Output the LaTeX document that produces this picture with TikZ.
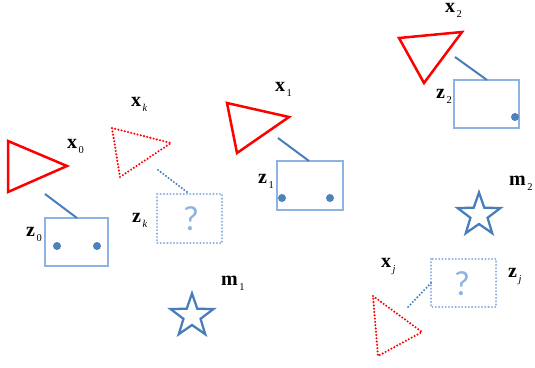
\documentclass[tikz,border=0pt]{standalone}
\usepackage{fontspec}
\setmainfont{Liberation Serif}
\newfontfamily\qfont{Carlito}
\usetikzlibrary{shapes.geometric}

\definecolor{linkblue}{RGB}{74,126,187}
\definecolor{boxblue}{RGB}{141,179,226}
\definecolor{dotblue}{RGB}{79,129,189}

\tikzset{
  pose/.style={draw=red, line width=2.5pt, line join=miter},
  posehid/.style={draw=red, line width=2.3pt, dash pattern=on 0pt off 3.3pt, line cap=round},
  link/.style={draw=linkblue, line width=2pt},
  linkhid/.style={draw=linkblue, line width=2.3pt, dash pattern=on 0pt off 3.3pt, line cap=round},
  obsbox/.style={draw=boxblue, line width=2.4pt},
  obshid/.style={draw=boxblue, line width=2.3pt, dash pattern=on 0pt off 3.3pt, line cap=round},
  feat/.style={circle, fill=dotblue, inner sep=0pt, minimum size=8pt},
  landmark/.style={star, star points=5, star point ratio=2.5, draw=linkblue,
    line width=2.3pt, minimum size=45pt, inner sep=0pt, fill=white},
  qmark/.style={text=boxblue, font=\qfont\fontsize{35}{35}\selectfont, inner sep=0pt},
  lbl/.style={anchor=base west, inner sep=0pt, font=\fontsize{20}{20}\selectfont\bfseries},
}
% bold symbol with a lowered small subscript
\newcommand{\symlab}[2]{#1\hspace{1.5pt}\raisebox{-5pt}{\fontsize{10.5}{10.5}\selectfont\mdseries #2}}

\begin{document}
\begin{tikzpicture}[x=1pt,y=-1pt]
\useasboundingbox (0,0) rectangle (535,367);

% ---- pose x0 and observation z0
\coordinate (t0a) at (8,141); \coordinate (t0b) at (67,166); \coordinate (t0c) at (8,192);
\draw[pose] (t0a) -- (t0b) -- (t0c) -- cycle;
\node[lbl] (x0) at (67,148) {\symlab{x}{0}};
\draw[obsbox] (45,218) rectangle (108,266);
\coordinate (z0top) at (77,218); \coordinate (t0s) at (45,194);
\draw[link] (t0s) -- (z0top);
\node[feat] (f01) at (57,246) {};
\node[feat] (f02) at (97,246) {};
\node[lbl] (z0) at (26,236) {\symlab{z}{0}};

% ---- pose xk (unknown) and observation zk
\coordinate (tka) at (112,128); \coordinate (tkb) at (171,143); \coordinate (tkc) at (120,177);
\draw[posehid] (tka) -- (tkb) -- (tkc) -- cycle;
\node[lbl] (xk) at (131,106) {\symlab{x}{\itshape k}};
\draw[obshid] (157,194) rectangle (222,243);
\node[qmark] (qk) at (191,219) {?};
\coordinate (tks) at (158,170); \coordinate (zkc) at (187,192);
\draw[linkhid] (tks) -- (zkc);
\node[lbl] (zk) at (132,222) {\symlab{z}{\itshape k}};

% ---- pose x1 and observation z1
\coordinate (t1a) at (227,103); \coordinate (t1b) at (289,117); \coordinate (t1c) at (237,153);
\draw[pose] (t1a) -- (t1b) -- (t1c) -- cycle;
\node[lbl] (x1) at (275,91) {\symlab{x}{1}};
\draw[obsbox] (277,161) rectangle (343,210);
\coordinate (t1s) at (278,138); \coordinate (z1top) at (309,161);
\draw[link] (t1s) -- (z1top);
\node[feat] (f11) at (282,198) {};
\node[feat] (f12) at (330,198) {};
\node[lbl] (z1) at (258,183) {\symlab{z}{1}};

% ---- pose x2 and observation z2
\coordinate (t2a) at (399,38); \coordinate (t2b) at (462,32); \coordinate (t2c) at (424,83);
\draw[pose] (t2a) -- (t2b) -- (t2c) -- cycle;
\node[lbl] (x2) at (445,12.5) {\symlab{x}{2}};
\draw[obsbox] (454,80) rectangle (519,128);
\coordinate (t2s) at (455,57); \coordinate (z2top) at (487,80);
\draw[link] (t2s) -- (z2top);
\node[feat] (f21) at (515,117) {};
\node[lbl] (z2) at (436,98) {\symlab{z}{2}};

% ---- pose xj (unknown) and observation zj
\coordinate (tja) at (373,296); \coordinate (tjb) at (422,332); \coordinate (tjc) at (378,356);
\draw[posehid] (tja) -- (tjb) -- (tjc) -- cycle;
\node[lbl] (xj) at (381,267) {\symlab{x}{\itshape j}};
\draw[obshid] (431,259) rectangle (496,307);
\node[qmark] (qj) at (462,284) {?};
\coordinate (zjc) at (431,283); \coordinate (tjs) at (408,307);
\draw[linkhid] (zjc) -- (tjs);
\node[lbl] (zj) at (508,277) {\symlab{z}{\itshape j}};

% ---- landmarks
\node[landmark] (m1s) at (192,316) {};
\node[lbl] (m1) at (221,285) {\symlab{m}{1}};
\node[landmark] (m2s) at (479,215) {};
\node[lbl] (m2) at (509,185) {\symlab{m}{2}};
\end{tikzpicture}
\end{document}
